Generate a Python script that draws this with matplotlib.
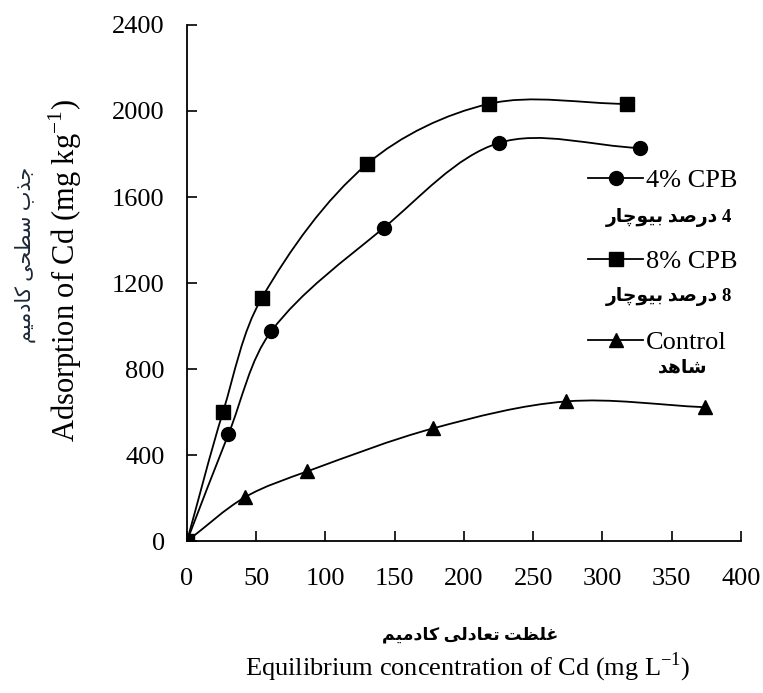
import numpy as np
import matplotlib
matplotlib.use("Agg")
import matplotlib.pyplot as plt
from matplotlib.path import Path
from matplotlib.patches import PathPatch
from matplotlib.lines import Line2D

# data
series_names = ["4% CPB", "8% CPB", "Control"]
series_fa = ["4 درصد بیوچار", "8 درصد بیوچار", "شاهد"]
x_cpb4 = [0, 30, 61, 142, 225, 327]
y_cpb4 = [0, 498, 977, 1456, 1851, 1828]
x_cpb8 = [0, 26, 54, 130, 218, 318]
y_cpb8 = [0, 600, 1130, 1753, 2033, 2033]
x_ctrl = [0, 42, 87, 178, 274, 374]
y_ctrl = [0, 205, 325, 525, 650, 623]
markers = ["o", "s", "^"]

x_ticks = list(range(0, 401, 50))
y_ticks = list(range(0, 2401, 400))
xlabel_en = "Equilibrium concentration of Cd (mg L$^{-1}$)"
xlabel_fa = "غلظت تعادلی کادمیم"
ylabel_en = "Adsorption of Cd (mg kg$^{-1}$)"
ylabel_fa = "جذب سطحی کادمیم"

# minimal Persian shaping (matplotlib does no Arabic shaping / bidi)
FORMS = {
    "ج": ("\uFE9D", "\uFE9E", "\uFE9F", "\uFEA0"),
    "ذ": ("\uFEAB", "\uFEAC", None, None),
    "ب": ("\uFE8F", "\uFE90", "\uFE91", "\uFE92"),
    "س": ("\uFEB1", "\uFEB2", "\uFEB3", "\uFEB4"),
    "ط": ("\uFEC1", "\uFEC2", "\uFEC3", "\uFEC4"),
    "ح": ("\uFEA1", "\uFEA2", "\uFEA3", "\uFEA4"),
    "ی": ("\uFBFC", "\uFBFD", "\uFBFE", "\uFBFF"),
    "ک": ("\uFB8E", "\uFB8F", "\uFB90", "\uFB91"),
    "ا": ("\uFE8D", "\uFE8E", None, None),
    "د": ("\uFEA9", "\uFEAA", None, None),
    "م": ("\uFEE1", "\uFEE2", "\uFEE3", "\uFEE4"),
    "غ": ("\uFECD", "\uFECE", "\uFECF", "\uFED0"),
    "ل": ("\uFEDD", "\uFEDE", "\uFEDF", "\uFEE0"),
    "ظ": ("\uFEC5", "\uFEC6", "\uFEC7", "\uFEC8"),
    "ت": ("\uFE95", "\uFE96", "\uFE97", "\uFE98"),
    "ع": ("\uFEC9", "\uFECA", "\uFECB", "\uFECC"),
    "ر": ("\uFEAD", "\uFEAE", None, None),
    "ص": ("\uFEB9", "\uFEBA", "\uFEBB", "\uFEBC"),
    "و": ("\uFEED", "\uFEEE", None, None),
    "چ": ("\uFB7A", "\uFB7B", "\uFB7C", "\uFB7D"),
    "ش": ("\uFEB5", "\uFEB6", "\uFEB7", "\uFEB8"),
    "ه": ("\uFEE9", "\uFEEA", "\uFEEB", "\uFEEC"),
}


def shape_fa(text):
    out = []
    for word in text.split(" "):
        if not any(c in FORMS for c in word):
            out.append(word)
            continue
        chars = []
        for i, c in enumerate(word):
            f = FORMS[c]
            prev = word[i - 1] if i > 0 else None
            nxt = word[i + 1] if i + 1 < len(word) else None
            join_prev = prev is not None and FORMS[prev][2] is not None
            join_next = nxt is not None and f[2] is not None
            if join_prev and join_next:
                chars.append(f[3])
            elif join_prev:
                chars.append(f[1])
            elif join_next:
                chars.append(f[2])
            else:
                chars.append(f[0])
        out.append("".join(reversed(chars)))
    return " ".join(reversed(out))


def smooth_path(ax, xs, ys):
    # Excel-like smoothed line, built in screen space (chord-weighted Catmull-Rom)
    p = ax.transData.transform(np.column_stack([xs, ys]).astype(float))
    n = len(p)
    d = np.hypot(*np.diff(p, axis=0).T)
    verts = [p[0]]
    codes = [Path.MOVETO]
    for i in range(n - 1):
        if i > 0:
            c1 = p[i] + (p[i + 1] - p[i - 1]) * d[i] / (d[i - 1] + d[i]) / 3
        else:
            c1 = p[i] + (p[i + 1] - p[i]) / 3
        if i + 2 < n:
            c2 = p[i + 1] - (p[i + 2] - p[i]) * d[i] / (d[i] + d[i + 1]) / 3
        else:
            c2 = p[i + 1] - (p[i + 1] - p[i]) / 3
        verts += [c1, c2, p[i + 1]]
        codes += [Path.CURVE4] * 3
    verts = ax.transData.inverted().transform(np.array(verts))
    return Path(verts, codes)


serif = ["Liberation Serif", "DejaVu Sans"]
plt.rcParams["font.family"] = serif
plt.rcParams["mathtext.fontset"] = "custom"
plt.rcParams["mathtext.rm"] = "Liberation Serif"

fig = plt.figure(figsize=(7.63, 6.93), dpi=100)
ax = fig.add_axes([0.245, 0.219, 0.726, 0.745])
ax.set_xlim(0, 400)
ax.set_ylim(0, 2400)

data = [(x_cpb4, y_cpb4), (x_cpb8, y_cpb8), (x_ctrl, y_ctrl)]
handles = []
for (xs, ys), m in zip(data, markers):
    ax.add_patch(PathPatch(smooth_path(ax, xs, ys), fill=False, lw=1.3,
                           edgecolor="black", zorder=2))
    ms = 10
    ax.plot(xs, ys, ls="none", marker=m, ms=ms, color="black", zorder=3)
    handles.append(Line2D([], [], color="black", lw=1.3, marker=m, ms=ms))

ax.set_xticks(x_ticks)
ax.set_yticks(y_ticks)
ax.spines["top"].set_visible(False)
ax.spines["right"].set_visible(False)
for s in ("left", "bottom"):
    ax.spines[s].set_linewidth(1.3)
ax.tick_params(direction="in", length=7, width=1.2, labelsize=19)
ax.tick_params(axis="y", pad=16)
ax.tick_params(axis="x", pad=19)

leg = ax.legend(handles, series_names, loc="upper left",
                bbox_to_anchor=(0.724, 0.721), frameon=False,
                fontsize=19, handlelength=2.1, handletextpad=0.1,
                labelspacing=2.18, borderaxespad=0, borderpad=0)

# Persian lines under each legend entry
fa_pos = [(0.984, 0.628, "right"), (0.984, 0.474, "right"),
          (0.895, 0.335, "center")]
for t, (xx, yy, ha) in zip(series_fa, fa_pos):
    ax.text(xx, yy, shape_fa(t), transform=ax.transAxes, ha=ha,
            va="center", fontsize=13.5, fontweight="bold", family=serif)

fig.text(0.616, 0.084, shape_fa(xlabel_fa), ha="center", va="center",
         fontsize=12.5, fontweight="bold", family=serif)
fig.text(0.613, 0.037, xlabel_en, ha="center", va="center", fontsize=19)
fig.text(0.085, 0.61, ylabel_en, ha="center", va="center", fontsize=22,
         rotation=90)
fig.text(0.033, 0.632, shape_fa(ylabel_fa), ha="center", va="center",
         fontsize=15, rotation=90, color="#1c2838", family=serif)

fig.savefig("out.png", dpi=100)
